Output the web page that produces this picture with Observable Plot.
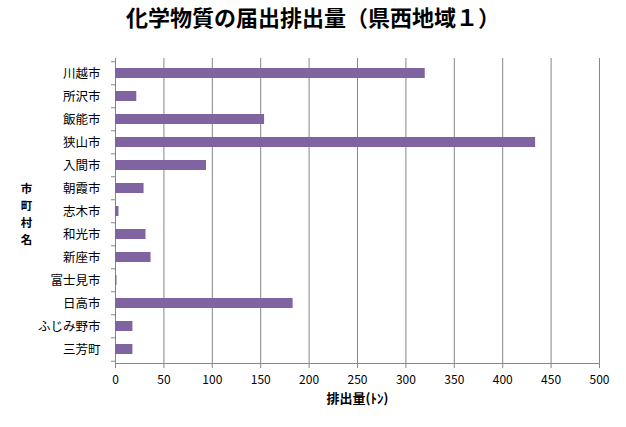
<!DOCTYPE html>
<html>
<head>
<meta charset="utf-8">
<script src="https://cdn.jsdelivr.net/npm/d3@7"></script>
<script src="https://cdn.jsdelivr.net/npm/@observablehq/plot@0.6"></script>
<style>
  html, body { margin: 0; padding: 0; background: #fff; }
  #wrap { width: 626px; height: 427px; position: relative; }
  #title { height: 48px; line-height: 52px; text-align: center; font: bold 22px "Noto Sans CJK JP", sans-serif; color: #000; }
  #chart svg { display: block; }
</style>
</head>
<body>
<div id="wrap">
  <div id="title">化学物質の届出排出量（県西地域１）</div>
  <div id="chart"></div>
</div>
<script>
const categories = ["川越市", "所沢市", "飯能市", "狭山市", "入間市", "朝霞市", "志木市", "和光市", "新座市", "富士見市", "日高市", "ふじみ野市", "三芳町"];
const values = [320, 22, 154, 434, 94, 29.5, 3.6, 31.5, 36.7, 1.5, 183.5, 18, 18];
const xTicks = [0, 50, 100, 150, 200, 250, 300, 350, 400, 450, 500];
const xLabel = "排出量(ﾄﾝ)";
const yLabel = "市\n町\n村\n名";

const data = categories.map((name, i) => ({name, value: values[i]}));

const W = 626, H = 379, mt = 10, mb = 64, ml = 115, mr = 27;
const step = (H - mt - mb) / categories.length;
const gray = "#868686";
const font = "'Noto Sans CJK JP', sans-serif";

const chart = Plot.plot({
  width: W,
  height: H,
  marginTop: mt,
  marginBottom: mb,
  marginLeft: ml,
  marginRight: mr,
  style: {fontFamily: font, fontSize: "12px", color: "#000", background: "#fff"},
  x: {domain: [0, 500]},
  y: {domain: categories, paddingInner: 0.575, paddingOuter: 0.2875},
  marks: [
    Plot.gridX({ticks: xTicks, stroke: gray, strokeOpacity: 1}),
    Plot.barX(data, {x: "value", y: "name", fill: "#8064A2"}),
    Plot.frame({anchor: "bottom", stroke: gray, strokeOpacity: 1}),
    Plot.axisX({ticks: xTicks, tickSize: 5, tickPadding: 7, stroke: gray, fill: "#000", label: null, fontSize: 12}),
    Plot.axisY({tickSize: 0, tickPadding: 15, label: null, fill: "#000", fontSize: 12.5}),
    Plot.axisY({tickSize: 4, tickFormat: () => "", label: null, stroke: gray, dy: -step / 2}),
    Plot.axisY({ticks: [categories[categories.length - 1]], tickSize: 4, tickFormat: () => "", label: null, stroke: gray, dy: step / 2}),
    Plot.text([xLabel], {frameAnchor: "bottom", dy: 39, fontWeight: "bold", fontSize: 13, fill: "#000"}),
    Plot.text([yLabel], {frameAnchor: "left", textAnchor: "middle", dx: -89, dy: 2, lineHeight: 1.46, fontWeight: "bold", fontSize: 11.5, fill: "#000"})
  ]
});
document.getElementById("chart").appendChild(chart);
</script>
</body>
</html>
